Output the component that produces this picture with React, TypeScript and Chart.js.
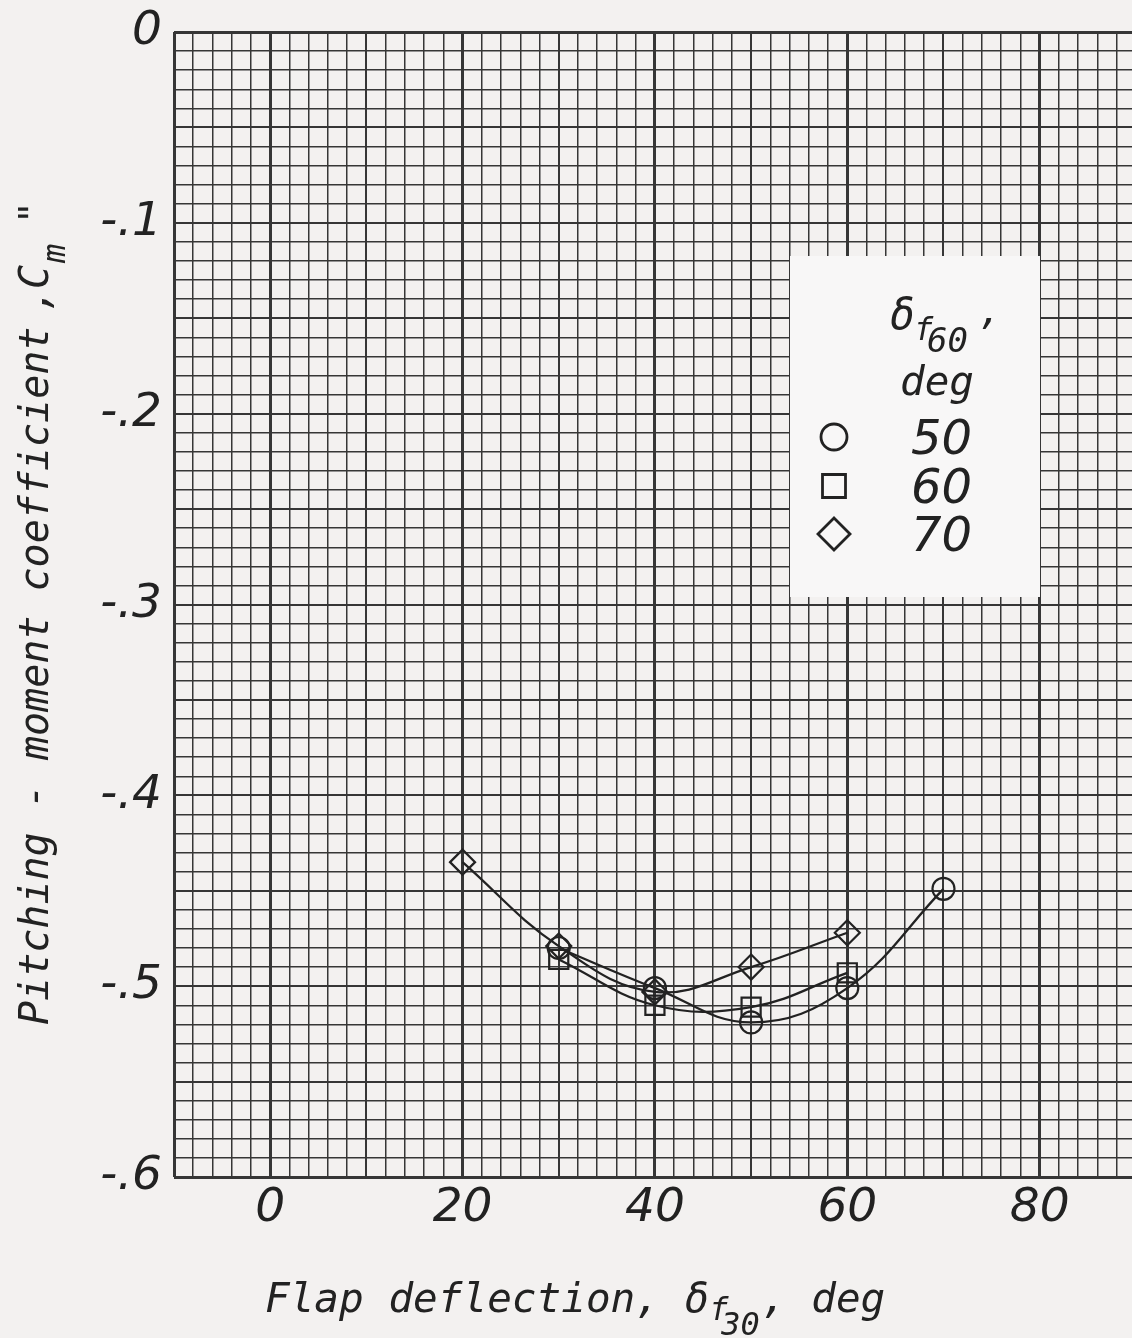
import React, { useEffect, useRef } from 'react';
import { Chart, registerables } from 'chart.js';

Chart.register(...registerables);

// ---------------- data ----------------
const deflection50 = [30, 40, 50, 60, 70];
const pitching50 = [-0.48, -0.501, -0.519, -0.501, -0.449];
const deflection60 = [30, 40, 50, 60];
const pitching60 = [-0.486, -0.51, -0.511, -0.493];
const deflection70 = [20, 30, 40, 50, 60];
const pitching70 = [-0.435, -0.479, -0.503, -0.49, -0.472];

const xTickValues = [0, 20, 40, 60, 80];
const xTickLabels = ['0', '20', '40', '60', '80'];
const yTickValues = [0, -0.1, -0.2, -0.3, -0.4, -0.5, -0.6];
const yTickLabels = ['0', '-.1', '-.2', '-.3', '-.4', '-.5', '-.6'];
const seriesLabels = ['50', '60', '70'];

// ---------------- style ----------------
const W = 1132;
const H = 1338;
const PAPER = '#f3f1f0';
const LEGEND_BG = '#f8f7f7';
const INK = '#222222';
const GRID = '#363636';
const MONO = '"DejaVu Sans Mono", "Liberation Mono", monospace';
const SANS = '"DejaVu Sans", "Liberation Sans", sans-serif';

const paperPlugin = {
  id: 'paper',
  beforeDraw(chart: any) {
    const ctx = chart.ctx;
    ctx.save();
    ctx.fillStyle = PAPER;
    ctx.fillRect(0, 0, chart.width, chart.height);
    ctx.restore();
  },
};

function drawMarker(ctx: CanvasRenderingContext2D, kind: string, x: number, y: number) {
  ctx.beginPath();
  if (kind === 'circle') {
    ctx.arc(x, y, 13, 0, Math.PI * 2);
  } else if (kind === 'rect') {
    ctx.rect(x - 11.5, y - 11.5, 23, 23);
  } else {
    ctx.moveTo(x, y - 16);
    ctx.lineTo(x + 16, y);
    ctx.lineTo(x, y + 16);
    ctx.lineTo(x - 16, y);
    ctx.closePath();
  }
  ctx.stroke();
}

const legendPlugin = {
  id: 'legendBox',
  beforeDatasetsDraw(chart: any) {
    const ctx = chart.ctx as CanvasRenderingContext2D;
    ctx.save();
    ctx.fillStyle = LEGEND_BG;
    ctx.fillRect(790, 256, 250, 341);
    ctx.fillStyle = INK;
    ctx.strokeStyle = INK;
    ctx.textAlign = 'left';
    ctx.textBaseline = 'alphabetic';
    ctx.font = `italic 42px ${MONO}`;
    ctx.fillText('\u03b4', 890, 329);
    ctx.font = `italic 32px ${MONO}`;
    ctx.fillText('f', 914, 340);
    ctx.font = `italic 34px ${MONO}`;
    ctx.fillText('60', 927, 352);
    ctx.font = `italic 38px ${MONO}`;
    ctx.fillText('\u2019', 974, 346);
    ctx.font = `italic 41px ${MONO}`;
    ctx.fillText('deg', 900, 395);
    const kinds = ['circle', 'rect', 'rectRot'];
    const rowY = [437, 486, 534];
    ctx.lineWidth = 2.8;
    ctx.font = `italic 48px ${SANS}`;
    for (let i = 0; i < seriesLabels.length; i++) {
      drawMarker(ctx, kinds[i], 834, rowY[i]);
      ctx.fillText(seriesLabels[i], 911, rowY[i] + 17);
    }
    ctx.restore();
  },
};

const titlesPlugin = {
  id: 'axisTitles',
  afterDraw(chart: any) {
    const ctx = chart.ctx as CanvasRenderingContext2D;
    ctx.save();
    ctx.fillStyle = INK;
    ctx.textAlign = 'left';
    ctx.textBaseline = 'alphabetic';
    // x title
    let x = 265;
    const yb = 1312;
    ctx.font = `italic 41px ${MONO}`;
    const t1 = 'Flap deflection, \u03b4';
    ctx.fillText(t1, x, yb);
    x += ctx.measureText(t1).width;
    ctx.font = `italic 32px ${MONO}`;
    ctx.fillText('f', x, yb + 8);
    x += 12;
    ctx.fillText('30', x, yb + 23);
    x += ctx.measureText('30').width;
    ctx.font = `italic 41px ${MONO}`;
    ctx.fillText(', deg', x + 2, yb);

    // y title (rotated)
    ctx.translate(48, 1025);
    ctx.rotate(-Math.PI / 2);
    ctx.font = `italic 40px ${MONO}`;
    const t2 = 'Pitching - moment coefficient';
    ctx.fillText(t2, 0, 0);
    const base = 1025;
    ctx.textAlign = 'center';
    ctx.fillText(',', base - 300, 0);
    ctx.textAlign = 'left';
    ctx.fillText('C', base - 289, 0);
    ctx.font = `italic 32px ${MONO}`;
    ctx.fillText('m', base - 263, 17);
    ctx.font = `italic 38px ${MONO}`;
    ctx.fillText('"', base - 224, -3);
    ctx.restore();
  },
};

const near = (a: number, b: number) => Math.abs(a - b) < 1e-6;

export default function App() {
  const ref = useRef<HTMLCanvasElement>(null);

  useEffect(() => {
    const canvas = ref.current;
    if (!canvas) return;
    const pts = (xs: number[], ys: number[]) => xs.map((x, i) => ({ x, y: ys[i] }));
    const common = {
      showLine: true,
      borderColor: INK,
      borderWidth: 2.3,
      pointBorderColor: INK,
      pointBorderWidth: 2.2,
      pointBackgroundColor: 'rgba(0,0,0,0)',
      tension: 0.4,
      fill: false,
    };
    const zeroPad = (s: any) => {
      s.paddingTop = 0;
      s.paddingBottom = 0;
      s.paddingLeft = 0;
      s.paddingRight = 0;
    };
    const chart = new Chart(canvas, {
      type: 'scatter',
      data: {
        datasets: [
          { ...common, label: seriesLabels[0], data: pts(deflection50, pitching50), pointStyle: 'circle', pointRadius: 11 },
          { ...common, label: seriesLabels[1], data: pts(deflection60, pitching60), pointStyle: 'rect', pointRadius: 13.5 },
          { ...common, label: seriesLabels[2], data: pts(deflection70, pitching70), pointStyle: 'rectRot', pointRadius: 12.5 },
        ],
      } as any,
      options: {
        animation: false,
        responsive: false,
        devicePixelRatio: 1,
        layout: { autoPadding: false, padding: { top: 32, left: 0, right: 0, bottom: 0 } },
        plugins: { legend: { display: false }, tooltip: { enabled: false }, title: { display: false } },
        scales: {
          x: {
            type: 'linear',
            min: -10,
            max: 89.6,
            border: { display: false },
            grid: {
              drawTicks: false,
              color: GRID,
              lineWidth: (c: any) => {
                const v = Math.round(c.tick.value);
                if (v === -10 || v % 20 === 0) return 3;
                if (v % 10 === 0) return 2;
                return 1.5;
              },
            },
            ticks: {
              stepSize: 2,
              includeBounds: false,
              autoSkip: false,
              maxRotation: 0,
              minRotation: 0,
              padding: 4,
              color: INK,
              font: { family: SANS, size: 47, style: 'italic' },
              callback: (v: any) => {
                const i = xTickValues.findIndex((t) => near(t, Number(v)));
                return i >= 0 ? xTickLabels[i] : '';
              },
            },
            afterFit: (s: any) => {
              s.height = H - 1177;
              zeroPad(s);
            },
          },
          y: {
            type: 'linear',
            min: -0.6,
            max: 0,
            border: { display: false },
            grid: {
              drawTicks: false,
              color: GRID,
              lineWidth: (c: any) => {
                const r = Math.round(c.tick.value * 100);
                if (r === 0 || r === -60) return 3;
                if (r % 5 === 0) return 2;
                return 1.5;
              },
            },
            ticks: {
              stepSize: 0.01,
              maxTicksLimit: 1000,
              autoSkip: false,
              padding: 12,
              color: INK,
              font: { family: SANS, size: 47, style: 'italic' },
              callback: (v: any) => {
                const i = yTickValues.findIndex((t) => Math.round(t * 100) === Math.round(Number(v) * 100));
                return i >= 0 ? yTickLabels[i] : '';
              },
            },
            afterFit: (s: any) => {
              s.width = 174;
              zeroPad(s);
            },
          },
        },
      } as any,
      plugins: [paperPlugin, legendPlugin, titlesPlugin],
    });
    return () => chart.destroy();
  }, []);

  return (
    <div style={{ position: 'absolute', left: 0, top: 0, width: W, height: H, overflow: 'hidden', background: PAPER }}>
      <canvas ref={ref} width={W} height={H} style={{ display: 'block', width: W, height: H }} />
    </div>
  );
}
